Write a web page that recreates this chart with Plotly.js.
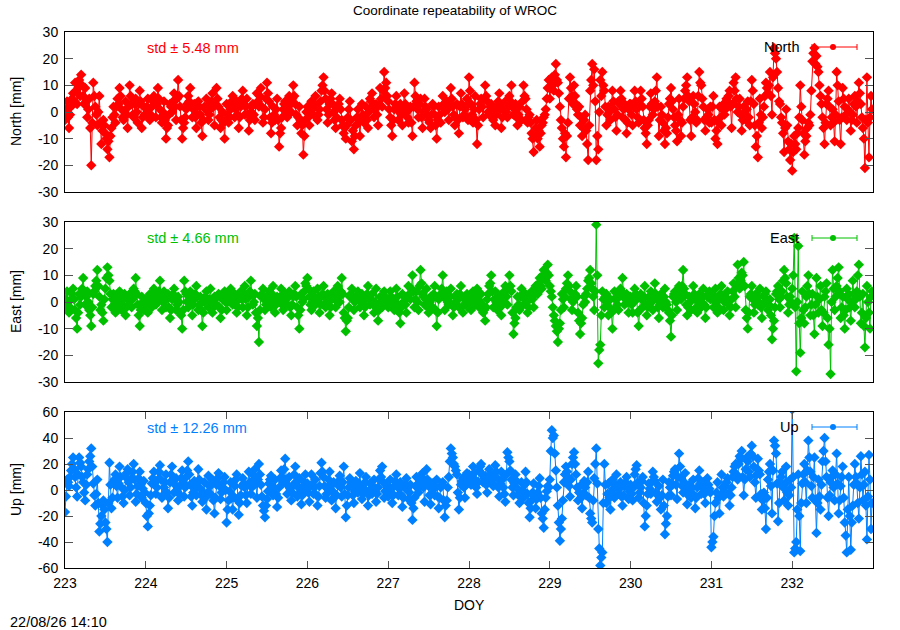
<!DOCTYPE html>
<html>
<head>
<meta charset="utf-8">
<script src="https://cdn.plot.ly/plotly-3.0.1.min.js"></script>
<style>html,body{margin:0;padding:0;background:#fff;}#chart{width:900px;height:630px;}</style>
</head>
<body>
<div id="chart"></div>
<script>
// ---- data (mm), 80 epochs per day, DOY 223.0000 ... 232.9875 (one row per day) ----
const firstDoy = 223;
const epochsPerDay = 80;

const northValues = [
  -3,1,4,-2,-6,-1,2,5,7,4,11,8,3,9,12,6,14,10,6,3, 9,4,-2,1,5,-6,-20,-4,11,6,2,-1,-5,0,6,-4,-12,-7,-3,-5, -8,-10,-14,-11,-17,-9,-6,-2,2,-1,-4,2,5,3,9,6,1,-2,-3,0, 4,-1,-6,2,10,6,3,-1,-2,3,5,0,-4,3,8,4,-6,-2,2,-1,
  -1,2,5,1,-3,-1,2,4,6,3,-2,3,9,5,1,-2,-4,0,4,-3, -10,-6,-5,-1,3,2,0,4,7,2,-3,5,12,6,2,-3,-10,-6,-4,-2, 1,3,6,4,9,2,-2,1,3,-2,-6,-1,4,2,-1,-4,-9,-3,2,1, 5,2,-3,-1,1,4,7,2,-5,3,9,5,2,-2,-6,-3,0,-4,-10,-3,
  3,-1,-4,-2,1,4,6,2,-2,1,4,-1,-6,-2,2,5,8,3,-1,2, 5,-1,-7,-3,0,2,3,-1,-3,3,7,4,2,6,9,2,-4,-2,1,5, 11,7,4,-2,-8,-4,2,-1,-3,1,5,-3,-13,-8,-6,-2,1,3,4,0, -2,2,6,3,0,5,10,6,3,-1,-5,-2,2,-3,-8,-5,-16,-9,-3,0,
  2,-2,-5,0,4,1,-1,3,6,2,-3,-1,1,4,8,10,13,8,5,1, -4,-1,3,5,7,3,0,-3,-6,-2,2,3,5,1,-3,-5,-8,-6,-10,-5, -2,1,4,-3,-11,-7,-14,-9,-5,-2,1,-4,-9,-3,3,-1,-4,-2,2,-3, -6,0,5,4,7,2,-2,1,3,-1,-5,3,9,5,2,8,15,9,11,6,
  4,1,-2,-5,-9,-3,1,3,6,2,-3,0,3,-1,-5,2,7,3,0,-2, -4,1,2,-4,-9,2,11,6,4,1,-2,3,5,-2,-6,0,5,2,1,-1, -3,-4,-6,-1,3,2,-1,-5,-10,-3,2,-1,-4,2,6,3,0,2,4,1, -3,4,9,5,2,-1,-5,-2,3,-3,-8,2,7,3,-2,-1,1,2,5,-3,
  13,8,3,-1,-4,1,6,-3,-12,-5,1,3,5,2,-2,5,10,6,4,0, -1,2,3,-2,-3,1,-5,-1,2,4,7,1,-6,-2,1,3,4,0,-2,2, 6,4,10,3,-1,1,3,-2,-5,-1,2,-3,-3,4,10,6,5,1,-4,-2, -1,-4,-8,-10,-15,-9,-6,-3,-10,-7,-13,-8,-5,-4,-2,-1,1,5,9,12,
  5,9,13,10,8,14,18,12,11,7,2,-3,-6,-10,-13,-8,-17,-9,-4,5, 13,9,6,3,10,6,3,1,-1,2,-5,-2,-9,-6,-3,-1,-7,-12,-18,-5, 8,12,18,10,16,4,-18,-9,-14,0,12,6,15,10,8,2,-5,-1,2,0, -3,2,8,4,1,-2,-7,-1,4,3,8,5,-2,1,3,-3,-8,-4,1,3,
  3,-1,-5,2,8,4,1,-2,-4,3,8,5,2,-3,-6,-8,-12,-5,-3,2, 7,3,-1,1,4,8,13,2,-9,-3,2,-1,-4,-7,-12,-6,-8,-2,3,5, 9,4,1,-2,-5,-7,-11,-1,5,-3,-9,-4,2,5,8,10,13,6,4,-3, -9,-2,6,3,0,-4,-3,6,15,11,10,5,2,-3,-7,-2,1,-1,-4,2,
  -4,2,6,-3,-10,-7,-12,-4,2,-2,-5,1,3,-1,1,5,4,6,8,2, -6,3,11,8,13,5,0,2,5,-1,-7,-3,2,0,-3,1,4,-2,-5,4, 12,8,3,-5,-13,-9,-17,-4,5,-1,-6,-2,2,6,11,9,7,10,15,6, -1,13,24,22,20,15,9,4,3,-2,-4,-8,-15,-6,1,-5,-11,-14,-18,-12,
  -22,-15,-9,-12,-14,-8,-6,-2,10,2,-3,-8,-16,-11,-9,-6,-4,-5,-1,8, 19,22,24,18,21,17,15,10,6,3,-2,-6,-12,-4,3,5,8,2,-5,-2, 1,-4,-11,-1,15,10,4,-3,-12,-2,9,5,2,-1,-3,1,5,0,-7,-3, -1,3,6,2,-4,4,11,7,3,-2,-6,-10,-21,-3,13,-4,-17,-2,6,1
];

const eastValues = [
  -2,1,4,0,-4,-2,1,3,5,1,-3,-6,-10,-4,3,-1,2,5,9,4, -1,2,4,0,-3,-5,-9,-2,3,4,6,8,12,6,2,-3,-1,-4,-7,1, 5,9,13,10,8,3,-2,1,3,-1,-4,-2,1,3,4,0,-3,-1,2,3, -5,-2,1,-1,3,2,-2,1,5,4,9,3,-1,-5,-9,-3,2,0,-3,1,
  1,-1,-4,0,3,1,-2,2,5,3,-1,0,2,4,8,2,-3,0,4,1, -2,1,3,-2,-6,-3,1,3,5,1,-3,-1,2,0,-4,-5,-10,-3,8,4, 3,0,-2,1,4,2,-5,-1,1,3,6,2,-3,-1,2,-3,-9,-4,0,2, 4,1,-2,1,5,0,-4,-2,2,-1,-1,2,3,-2,-6,-3,1,2,4,0,
  -3,0,2,3,5,2,-1,1,3,-1,-4,-2,1,2,4,1,-2,3,6,1, -5,-2,2,4,8,3,-1,0,3,-4,-9,-6,-15,-3,2,3,5,1,-3,-1, 1,2,4,0,-2,3,6,1,-4,-1,2,1,0,2,5,-1,-3,0,3,1, -1,2,4,-2,-5,-1,2,3,6,2,-2,-5,-10,-3,3,0,1,4,7,6,
  9,5,2,-1,-3,0,4,2,-1,1,5,2,-4,-1,2,3,6,2,-2,0, 3,-1,-5,-2,1,2,4,1,-2,3,6,2,0,4,9,3,-4,-6,-11,-7, -6,-2,2,3,5,1,-3,0,1,2,4,1,-2,0,3,-1,-5,-2,1,3, 6,2,-1,1,3,-1,-4,0,5,-2,-7,-3,2,0,-2,1,4,2,0,-1,
  -2,1,4,2,1,-1,-3,0,5,2,-1,-4,-8,-2,3,0,2,-1,-4,2, 6,3,1,5,10,4,-2,1,4,0,-3,6,12,7,3,2,-1,1,5,-2, -4,0,2,1,-2,3,6,-3,-9,-4,1,2,3,5,10,2,-3,1,4,0, -1,2,5,-1,-5,-2,2,0,3,1,-2,3,6,2,-4,-1,1,2,3,-2,
  2,0,-3,1,4,2,-1,3,5,1,-2,0,3,-1,-4,-3,-7,-2,1,3, 6,7,10,4,-2,1,4,0,-3,-1,2,-2,-5,0,3,4,6,2,-1,5, 10,6,4,-4,-12,-8,-6,-2,2,-1,-3,2,5,3,-1,1,3,0,-4,-2, 1,2,4,1,-2,3,6,4,3,7,9,6,5,10,12,9,8,11,14,10,
  6,4,2,-2,-5,-7,-9,-11,-15,-10,-8,-3,3,1,-2,2,5,7,10,6, 4,1,-3,0,1,3,6,2,-4,-7,-12,-8,-6,-1,2,0,3,5,8,9, 12,7,5,2,-3,4,29,10,-23,-18,-16,-5,4,1,-2,2,3,0,-5,-2, 1,-4,-10,-3,4,1,2,-1,-3,2,5,4,9,3,-1,1,3,0,-4,2,
  2,-1,-4,0,5,3,1,-4,-9,-3,3,1,-2,2,6,-1,-5,-2,2,1, 4,0,-3,2,7,3,1,-2,-6,-1,3,1,-2,2,5,0,-1,-3,-4,-7, -13,-5,2,3,4,0,-3,2,6,4,1,6,12,5,3,-1,-5,-2,2,0, -3,2,6,3,1,-2,-4,0,3,1,-2,2,5,-1,-6,-2,2,3,4,1,
  3,1,-2,2,5,0,-4,-2,1,3,6,2,-3,0,2,1,4,-1,-5,-2, 1,4,7,2,-2,6,14,9,5,8,11,10,15,6,-3,-6,-10,-4,2,3, 6,1,-4,-1,3,2,-1,0,5,-2,-6,-1,2,3,4,0,-3,-1,1,-5, -14,-10,-7,-2,3,4,6,1,-2,2,4,8,12,9,7,2,-4,-1,2,0,
  5,10,24,-2,-26,0,21,-8,-19,-6,4,-3,-8,-2,2,6,10,3,-5,-1, 3,-5,-12,-1,9,2,-4,1,6,-3,-9,-4,2,4,7,-6,-16,-10,-27,0, 12,5,-3,2,6,9,13,4,-6,-2,2,-5,-10,-3,5,1,3,-2,-7,0, 8,3,-2,1,4,10,14,2,-8,-4,3,-9,-17,-6,6,0,-4,-10,2,4
];

const upValues = [
  -17,-5,8,6,3,10,15,20,25,16,10,2,-5,12,25,21,18,10,6,-2, -8,4,12,16,22,26,32,18,5,-4,-12,-3,8,-10,-32,-26,-20,-12,-8,-15, -25,-30,-40,-10,21,4,-14,-6,5,8,12,3,-6,5,18,10,2,-5,-10,0, 10,13,16,6,-4,2,9,14,20,8,-9,-3,3,9,14,4,-6,1,7,-2,
  -10,-20,-28,-18,-12,-4,5,9,14,6,-3,2,8,14,19,8,-6,-4,2,6, 12,-2,-14,-6,6,12,18,7,-2,4,9,-1,-8,-3,3,9,15,6,-5,2, 10,15,22,12,4,-5,-12,-2,7,1,-4,6,16,8,1,-4,-9,-2,6,-6, -15,-2,11,3,-3,4,8,-8,-18,-6,4,9,13,3,-7,-2,2,6,10,0,
  -25,-15,-8,-1,6,-6,-15,-5,3,8,12,-8,-19,-10,-4,3,9,5,2,-4, -10,4,14,6,-3,2,7,11,16,5,-6,8,20,12,4,-5,-12,-16,-21,-12, -7,-1,5,8,11,3,-4,2,8,-3,-13,-6,2,9,15,10,6,16,24,8, -3,3,10,1,-8,-2,4,12,18,6,-5,2,9,-2,-11,-4,3,6,12,0,
  5,-2,-9,3,12,4,-3,2,8,-4,-12,-5,3,13,21,14,10,3,-6,-3, 2,8,14,3,-8,-1,6,-5,-14,-4,4,7,11,2,-5,6,18,-3,-21,-12, -4,2,9,6,3,-4,-10,-1,7,3,-2,5,13,2,-7,-3,1,6,10,-2, -12,-4,5,1,-3,3,8,-1,-9,-3,2,8,15,10,18,6,-6,-1,4,0,
  -5,2,8,-2,-10,-4,3,7,12,4,-4,1,6,-4,-13,-6,2,5,9,1, -7,-2,4,-10,-23,-14,-6,3,10,4,-2,2,7,10,13,2,-9,5,16,8, 3,-4,-11,-3,5,1,-4,2,8,-5,-14,-6,2,4,6,-8,-21,-12,-8,2, 10,22,32,28,25,20,18,15,12,-2,-15,-6,4,7,9,2,-6,4,13,6,
  12,8,4,11,18,13,8,2,-3,6,15,18,20,12,6,9,11,4,-2,7, 16,12,7,5,3,10,19,14,9,2,-5,5,14,8,2,-3,-9,12,29,25, 22,15,8,2,-4,5,12,7,1,-4,-10,-2,6,0,-6,4,14,6,-3,-10, -21,-14,-8,-2,5,-5,-14,-7,-2,3,9,-6,-18,-22,-29,-15,-6,-1,3,2,
  8,30,46,40,42,28,15,2,-12,-25,-39,-30,-22,-8,6,12,18,14,10,3, -5,8,20,25,29,20,12,2,-8,-2,3,-6,-14,-3,7,2,-4,6,14,-6, -18,-22,-25,-8,9,20,32,5,-30,-45,-58,-52,-48,-10,20,4,-10,-3,5,-6, -15,-2,8,1,-6,4,12,2,-3,1,6,-5,-12,-4,3,6,10,2,-7,-1,
  4,-3,-8,2,12,16,19,6,-6,-2,2,7,10,-10,-28,-20,-12,-3,5,1, -3,6,14,10,7,-2,-9,-4,3,-6,-15,-4,8,-12,-34,-26,-20,-5,6,2, -4,5,11,14,16,4,-7,10,28,18,9,3,-2,6,13,1,-11,-4,4,-2, -6,2,8,-4,-14,-6,2,9,15,5,-3,2,6,-3,-10,1,9,4,1,-2,
  -44,-40,-36,-20,-10,-2,6,-6,-18,-4,12,2,-5,-1,3,6,9,-3,-12,-4, 2,10,14,18,20,12,8,20,26,24,30,10,-4,8,16,25,22,14,10,28, 34,26,18,6,-6,12,24,15,12,-3,-15,-8,-2,-14,-30,-6,8,14,20,3, -18,15,38,34,28,5,-24,-10,6,10,14,2,-8,5,18,-2,-12,-4,8,2,
  62,10,-48,-45,-40,-15,12,-20,-47,-10,5,12,20,6,-10,15,38,25,14,3, -6,10,25,-8,-33,-10,8,-5,-15,4,22,30,40,22,10,-6,-20,-4,6,10, 15,2,-8,12,28,5,-18,-8,3,10,18,-6,-25,-35,-48,-15,10,-20,-46,-25, -12,4,20,10,5,-10,-22,2,26,12,-8,4,14,-12,-38,-5,27,8,-30,-10
];

const doyTicks = [223,224,225,226,227,228,229,230,231,232];
const neTickVals = [-30,-20,-10,0,10,20,30];
const neTickText = ['-30','-20','-10','0','10','20','30'];
const upTickVals = [-60,-40,-20,0,20,40,60];
const upTickText = ['-60','-40','-20','0','20','40','60'];
const seriesNames = ['North','East','Up'];
const stdTexts = ['std \u00b1 5.48 mm','std \u00b1 4.66 mm','std \u00b1 12.26 mm'];
const titleText = 'Coordinate repeatability of WROC';
const stampText = '22/08/26 14:10';

// ---- build ----
const doyOf = vals => vals.map((_, k) => firstDoy + k / epochsPerDay);
const colors = ['#ff0000', '#00c000', '#0080ff'];
const FONT = 'Liberation Sans, Arial, Helvetica, sans-serif';

// plot area in pixels: left 65, right 873, top 32, bottom 568
const L = 65, R = 873, T = 32, B = 568;
const W = R - L, H = B - T;
const px = x => (x - L) / W;
const py = y => (B - y) / H;

const series = [northValues, eastValues, upValues];
const traces = series.map((vals, i) => ({
  x: doyOf(vals), y: vals, type: 'scatter', mode: 'lines+markers',
  name: seriesNames[i],
  xaxis: i === 0 ? 'x' : 'x' + (i + 1),
  yaxis: i === 0 ? 'y' : 'y' + (i + 1),
  line: {color: colors[i], width: 1},
  marker: {color: colors[i], symbol: 'diamond', size: 8, line: {width: 0}},
  showlegend: false, hoverinfo: 'skip'
}));

const TICKFONT = {family: FONT, size: 14, color: '#000'};
const xCommon = {
  range: [223, 233], showgrid: false, zeroline: false,
  showline: true, linecolor: '#000', linewidth: 1, mirror: true,
  tickmode: 'array', tickvals: doyTicks, ticktext: doyTicks.map(String),
  tickfont: TICKFONT
};
const yCommon = {
  showgrid: false, showline: true, linecolor: '#000', linewidth: 1,
  mirror: 'ticks', ticks: 'inside', ticklen: 8, tickcolor: '#555',
  zeroline: false,
  tickmode: 'array', tickfont: TICKFONT,
  ticklabelstandoff: 3, fixedrange: true
};

const dom1 = [py(192), py(32)];
const dom2 = [py(382), py(222)];
const dom3 = [py(568), py(412)];

const annotations = [];
const shapes = [];
const panelYs = [
  {std: 48, leg: 47, mid: 112, label: 'North [mm]'},
  {std: 238, leg: 238, mid: 302, label: 'East [mm]'},
  {std: 428, leg: 427, mid: 490, label: 'Up [mm]'}
];
panelYs.forEach((p, i) => {
  annotations.push({xref: 'paper', yref: 'paper', x: px(145), y: py(p.std), xanchor: 'left', yanchor: 'middle',
    text: stdTexts[i], showarrow: false, font: {family: FONT, size: 14.5, color: colors[i]}});
  annotations.push({xref: 'paper', yref: 'paper', x: px(801), y: py(p.leg), xanchor: 'right', yanchor: 'middle',
    text: seriesNames[i], showarrow: false, font: {family: FONT, size: 14.5, color: '#000'}});
  annotations.push({xref: 'paper', yref: 'paper', x: px(16), y: py(p.mid), xanchor: 'center', yanchor: 'middle',
    text: p.label, textangle: -90, showarrow: false, font: {family: FONT, size: 14, color: '#000'}});
  const yy = py(p.leg), cap = 3 / H;
  shapes.push({type: 'line', xref: 'paper', yref: 'paper', x0: px(812), x1: px(857), y0: yy, y1: yy, line: {color: colors[i], width: 1}});
  shapes.push({type: 'line', xref: 'paper', yref: 'paper', x0: px(812), x1: px(812), y0: yy - cap, y1: yy + cap, line: {color: colors[i], width: 1}});
  shapes.push({type: 'line', xref: 'paper', yref: 'paper', x0: px(857), x1: px(857), y0: yy - cap, y1: yy + cap, line: {color: colors[i], width: 1}});
  shapes.push({type: 'circle', xref: 'paper', yref: 'paper', x0: px(830), x1: px(836), y0: yy - 3 / H, y1: yy + 3 / H,
    fillcolor: colors[i], line: {color: colors[i], width: 0}});
});
annotations.push({xref: 'paper', yref: 'paper', x: px(469), y: py(605), xanchor: 'center', yanchor: 'middle',
  text: 'DOY', showarrow: false, font: {family: FONT, size: 14, color: '#000'}});
annotations.push({xref: 'paper', yref: 'paper', x: px(8), y: py(622), xanchor: 'left', yanchor: 'middle',
  text: stampText, showarrow: false, font: {family: FONT, size: 14.5, color: '#000'}});

const layout = {
  width: 900, height: 630,
  margin: {l: L, r: 900 - R, t: T, b: 630 - B, pad: 0},
  paper_bgcolor: '#fff', plot_bgcolor: '#fff',
  font: {family: FONT, size: 14, color: '#000'},
  title: {text: titleText, x: 455 / 900, xanchor: 'center', y: 1 - 10 / 630, yanchor: 'middle', yref: 'container', xref: 'container',
    font: {family: FONT, size: 13.5, color: '#000'}},
  showlegend: false,
  xaxis: Object.assign({}, xCommon, {anchor: 'y', ticks: '', showticklabels: false}),
  xaxis2: Object.assign({}, xCommon, {anchor: 'y2', ticks: '', showticklabels: false}),
  xaxis3: Object.assign({}, xCommon, {anchor: 'y3', ticks: 'inside', ticklen: 7, tickcolor: '#555', mirror: 'ticks', showticklabels: true, ticklabelstandoff: 2}),
  yaxis: Object.assign({}, yCommon, {domain: dom1, anchor: 'x', range: [-30, 30], tickvals: neTickVals, ticktext: neTickText}),
  yaxis2: Object.assign({}, yCommon, {domain: dom2, anchor: 'x2', range: [-30, 30], tickvals: neTickVals, ticktext: neTickText}),
  yaxis3: Object.assign({}, yCommon, {domain: dom3, anchor: 'x3', range: [-60, 60], tickvals: upTickVals, ticktext: upTickText}),
  annotations: annotations,
  shapes: shapes
};

Plotly.newPlot('chart', traces, layout, {displayModeBar: false, staticPlot: true});
</script>
</body>
</html>
